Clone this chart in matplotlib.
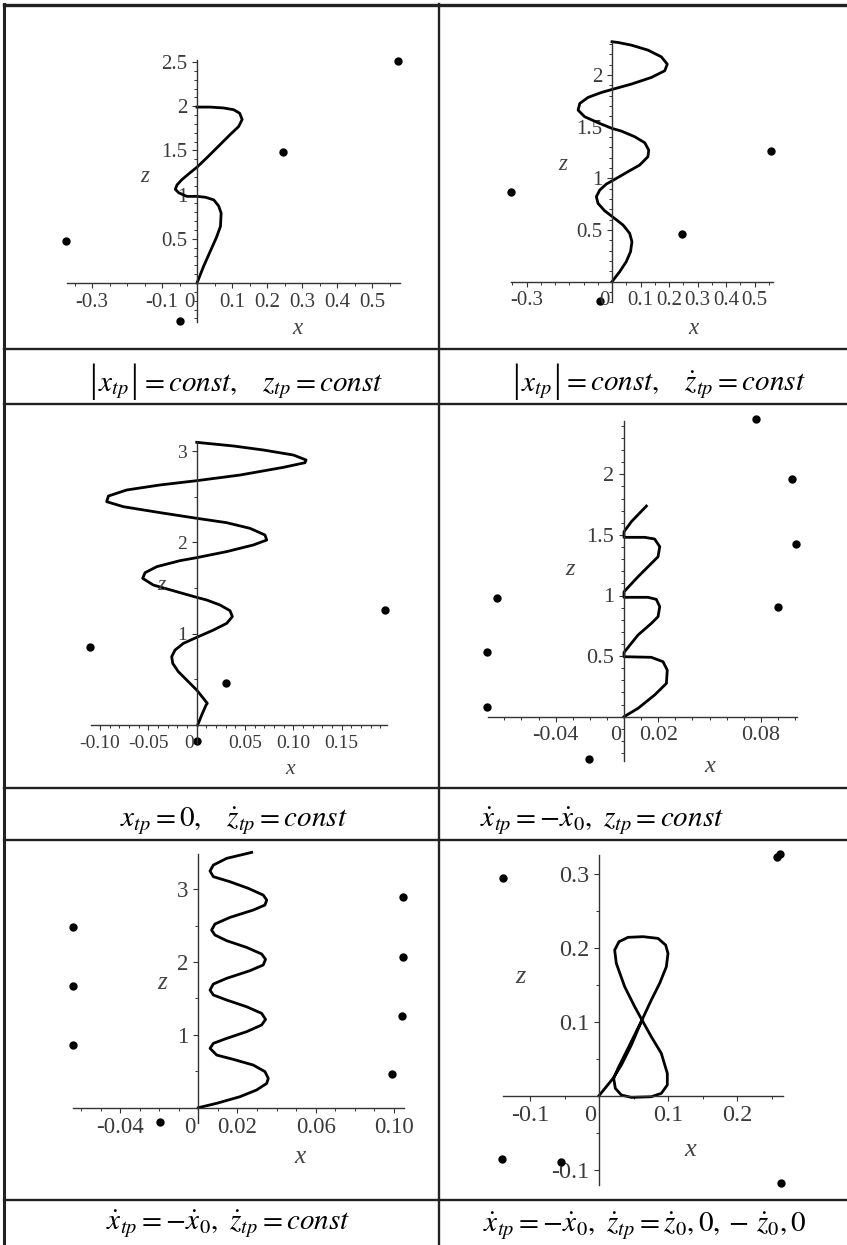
import matplotlib
matplotlib.use("Agg")
import matplotlib.pyplot as plt
from matplotlib.lines import Line2D
from matplotlib.offsetbox import TextArea, HPacker, AnnotationBbox
from matplotlib.ticker import FixedLocator, FixedFormatter, MultipleLocator

plt.rcParams["mathtext.fontset"] = "stix"
plt.rcParams["font.family"] = ["Liberation Serif", "DejaVu Serif"]

# --- data (x, z) ---
# panel 1: |x_tp| = const, z_tp = const
p1_curve_x = [0, 0.019, 0.038, 0.055, 0.067, 0.069, 0.062, 0.048, 0.024, 0, -0.029, -0.052,
              -0.062, -0.057, -0.043, -0.019, 0, 0.029, 0.062, 0.095, 0.119, 0.129, 0.122,
              0.105, 0.076, 0.038, 0]
p1_curve_z = [0, 0.19, 0.36, 0.51, 0.64, 0.79, 0.87, 0.94, 0.97, 0.98, 0.98, 1.02,
              1.06, 1.11, 1.17, 1.25, 1.31, 1.42, 1.55, 1.68, 1.77, 1.85, 1.92,
              1.96, 1.98, 1.99, 1.99]
p1_dots_x = [0.574, 0.246, -0.374, -0.049]
p1_dots_z = [2.51, 1.48, 0.475, -0.43]

# panel 2: |x_tp| = const, zdot_tp = const
p2_curve_x = [0, 0.027, 0.050, 0.065, 0.070, 0.062, 0.039, 0.009, -0.026, -0.049, -0.055,
              -0.043, -0.020, 0.009, 0.056, 0.097, 0.126, 0.129, 0.115, 0.080, 0.033, 0,
              -0.049, -0.096, -0.119, -0.113, -0.084, -0.037, 0, 0.068, 0.138, 0.185,
              0.194, 0.173, 0.126, 0.068, 0.021, 0]
p2_curve_z = [0, 0.097, 0.194, 0.29, 0.387, 0.468, 0.548, 0.613, 0.687, 0.758, 0.823,
              0.887, 0.945, 0.99, 1.065, 1.129, 1.21, 1.274, 1.345, 1.403, 1.458, 1.484,
              1.539, 1.597, 1.661, 1.726, 1.784, 1.832, 1.861, 1.913, 1.977, 2.042,
              2.106, 2.177, 2.242, 2.29, 2.316, 2.323]
p2_dots_x = [-0.355, 0.559, 0.246, -0.041]
p2_dots_z = [0.865, 1.27, 0.46, -0.19]

# panel 3: x_tp = 0, zdot_tp = const
p3_curve_x = [0.001, 0.0052, 0.0097, 0.011, 0.0069, 0, -0.0104, -0.019, -0.0248, -0.0259,
              -0.0224, -0.0138, 0, 0.0173, 0.031, 0.0369, 0.0345, 0.0242, 0.0104, 0,
              -0.0207, -0.0449, -0.0559, -0.0535, -0.0414, -0.0173, 0, 0.031, 0.0587,
              0.0725, 0.0707, 0.0552, 0.031, 0, -0.038, -0.0759, -0.0932, -0.0914,
              -0.0725, -0.038, 0, 0.0449, 0.0897, 0.1121, 0.1132, 0.1001, 0.069, 0.038,
              0.0104, 0]
p3_curve_z = [0, 0.11, 0.219, 0.237, 0.292, 0.383, 0.493, 0.584, 0.675, 0.748,
              0.821, 0.894, 0.96, 1.04, 1.113, 1.187, 1.252, 1.314, 1.369, 1.398,
              1.46, 1.533, 1.606, 1.668, 1.734, 1.8, 1.833, 1.899, 1.972,
              2.026, 2.081, 2.154, 2.216, 2.264, 2.326, 2.391, 2.446, 2.508,
              2.574, 2.629, 2.676, 2.738, 2.822, 2.873, 2.903, 2.957, 3.012, 3.056,
              3.085, 3.096]
p3_dots_x = [-0.110, 0.195, 0.030, 0.0]
p3_dots_z = [0.858, 1.26, 0.456, -0.18]

# panel 4: xdot_tp = -xdot_0, z_tp = const
p4_curve_x = [0, 0.0082, 0.0179, 0.0248, 0.0253, 0.0228, 0.016, 0,
              0, 0.0082, 0.016, 0.0199, 0.0209, 0.0189, 0.014, 0,
              0, 0.0082, 0.016, 0.0199, 0.0209, 0.0179, 0.0121, 0,
              0, 0.0043, 0.0131]
p4_curve_z = [0, 0.069, 0.179, 0.275, 0.385, 0.454, 0.49, 0.495,
              0.53, 0.674, 0.77, 0.825, 0.908, 0.968, 0.985, 0.985,
              1.031, 1.155, 1.265, 1.32, 1.403, 1.466, 1.48, 1.48,
              1.526, 1.609, 1.738]
p4_dots_x = [0.0774, 0.0982, 0.1004, 0.090, -0.0741, -0.0803, -0.080, -0.0206]
p4_dots_z = [2.454, 1.959, 1.425, 0.902, 0.982, 0.534, 0.077, -0.352]

# panel 5: xdot_tp = -xdot_0, zdot_tp = const
p5_curve_x = [0, 0.0094, 0.0213, 0.0298, 0.035, 0.0358, 0.0341, 0.0281, 0.0179, 0.0094,
              0.006, 0.0077, 0.0145, 0.0247, 0.0324, 0.0344, 0.0324, 0.0247, 0.0145,
              0.0077, 0.006, 0.0077, 0.0145, 0.0264, 0.0332, 0.0344, 0.0324, 0.0247,
              0.0145, 0.0085, 0.0068, 0.0085, 0.0162, 0.0281, 0.0341, 0.035, 0.0332,
              0.0256, 0.0162, 0.0077, 0.006, 0.0077, 0.0145, 0.0273]
p5_curve_z = [0, 0.06, 0.151, 0.243, 0.334, 0.403, 0.495, 0.586, 0.664, 0.723,
              0.815, 0.884, 0.952, 1.044, 1.136, 1.213, 1.296, 1.387, 1.479,
              1.548, 1.616, 1.699, 1.777, 1.882, 1.96, 2.038, 2.111, 2.202,
              2.294, 2.372, 2.44, 2.523, 2.614, 2.715, 2.784, 2.853, 2.921,
              3.013, 3.104, 3.173, 3.251, 3.333, 3.425, 3.507]
p5_dots_x = [-0.0639, -0.0639, -0.0639, -0.0196, 0.1049, 0.1046, 0.1043, 0.0992]
p5_dots_z = [2.486, 1.672, 0.861, -0.192, 2.89, 2.074, 1.26, 0.458]

# panel 6: xdot_tp = -xdot_0, zdot_tp = zdot_0, 0, -zdot_0, 0
p6_curve_x = [0, 0.0106, 0.0203, 0.0324, 0.0469, 0.0623, 0.0758, 0.0879, 0.0976, 0.1,
              0.0966, 0.0855, 0.0638, 0.042, 0.029, 0.0227, 0.0251, 0.0372, 0.0517,
              0.0623, 0.0758, 0.0903, 0.099, 0.099, 0.0903, 0.0758, 0.0469, 0.0324,
              0.0237, 0.0213, 0.0275, 0.042, 0.0623]
p6_curve_z = [0, 0.0122, 0.0234, 0.0414, 0.0685, 0.1023, 0.1293, 0.1518, 0.1743, 0.1923,
              0.2036, 0.2126, 0.2149, 0.214, 0.2081, 0.1968, 0.1788, 0.1473, 0.1203,
              0.1023, 0.0797, 0.0572, 0.0302, 0.0144, 0.0032, -0.0014, -0.0023, 0.0009,
              0.0099, 0.0234, 0.0369, 0.064, 0.1023]
p6_dots_x = [-0.139, 0.2575, 0.2623, -0.140, -0.0555, 0.2633]
p6_dots_z = [0.2946, 0.323, 0.326, -0.0855, -0.090, -0.1175]

# captions: the first two have tall |...| bars, so they are given as pieces
captions_abs = [
    r"$= const,\quad z_{tp} = const$",
    r"$= const,\quad \dot{z}_{tp} = const$",
]
captions = [
    r"$x_{tp} = 0,\quad \dot{z}_{tp} = const$",
    r"$\dot{x}_{tp} = -\dot{x}_0,\ z_{tp} = const$",
    r"$\dot{x}_{tp} = -\dot{x}_0,\ \dot{z}_{tp} = const$",
    r"$\dot{x}_{tp} = -\dot{x}_0,\ \dot{z}_{tp} = \dot{z}_0, 0, -\,\dot{z}_0, 0$",
]

W, H = 847, 1245
fig = plt.figure(figsize=(W / 100, H / 100), dpi=100)

panels = [
    dict(cx=p1_curve_x, cz=p1_curve_z, dx=p1_dots_x, dz=p1_dots_z,
         origin=(197, 283), scale=(350, 88.4), xlim=(-0.371, 0.58), zlim=(-0.44, 2.52),
         xt=[-0.3, -0.1, 0.1, 0.2, 0.3, 0.4, 0.5], xl=["-0.3", "-0.1", "0.1", "0.2", "0.3", "0.4", "0.5"],
         zt=[0.5, 1, 1.5, 2, 2.5], zl=["0.5", "1", "1.5", "2", "2.5"],
         xminor=0.05, zminor=0.1, fs=15, zpos=(145, 176), xpos=(297, 328)),
    dict(cx=p2_curve_x, cz=p2_curve_z, dx=p2_dots_x, dz=p2_dots_z,
         origin=(612, 281.7), scale=(285, 103.3), xlim=(-0.354, 0.565), zlim=(-0.2, 2.32),
         xt=[-0.3, 0.1, 0.2, 0.3, 0.4, 0.5], xl=["-0.3", "0.1", "0.2", "0.3", "0.4", "0.5"],
         zt=[0.5, 1, 1.5, 2], zl=["0.5", "1", "1.5", "2"],
         xminor=0.05, zminor=0.1, fs=15, zpos=(563, 165), xpos=(693, 328)),
    dict(cx=p3_curve_x, cz=p3_curve_z, dx=p3_dots_x, dz=p3_dots_z,
         origin=(196.7, 725), scale=(966, 91.3), xlim=(-0.109, 0.197), zlim=(-0.2, 3.10),
         xt=[-0.10, -0.05, 0.05, 0.10, 0.15], xl=["-0.10", "-0.05", "0.05", "0.10", "0.15"],
         zt=[1, 2, 3], zl=["1", "2", "3"],
         xminor=0.01, zminor=0.5, fs=14, zpos=(161, 586), xpos=(290, 770)),
    dict(cx=p4_curve_x, cz=p4_curve_z, dx=p4_dots_x, dz=p4_dots_z,
         origin=(624, 716.7), scale=(1710, 121.2), xlim=(-0.0795, 0.1013), zlim=(-0.363, 2.44),
         xt=[-0.04, 0.02, 0.08], xl=["-0.04", "0.02", "0.08"],
         zt=[0.5, 1, 1.5, 2], zl=["0.5", "1", "1.5", "2"],
         xminor=0.01, zminor=0.1, fs=16, zpos=(570, 570), xpos=(710, 767)),
    dict(cx=p5_curve_x, cz=p5_curve_z, dx=p5_dots_x, dz=p5_dots_z,
         origin=(198.3, 1107.7), scale=(1955, 72.8), xlim=(-0.0639, 0.1054), zlim=(-0.214, 3.49),
         xt=[-0.04, 0.02, 0.06, 0.10], xl=["-0.04", "0.02", "0.06", "0.10"],
         zt=[1, 2, 3], zl=["1", "2", "3"],
         xminor=0.01, zminor=0.5, fs=16.5, zpos=(162, 983), xpos=(300, 1157)),
    dict(cx=p6_curve_x, cz=p6_curve_z, dx=p6_dots_x, dz=p6_dots_z,
         origin=(599, 1095.7), scale=(690, 740), xlim=(-0.139, 0.267), zlim=(-0.121, 0.325),
         xt=[-0.1, 0.1, 0.2], xl=["-0.1", "0.1", "0.2"],
         zt=[-0.1, 0.1, 0.2, 0.3], zl=["-0.1", "0.1", "0.2", "0.3"],
         xminor=0.05, zminor=0.05, fs=17.5, zpos=(520, 977), xpos=(690, 1150)),
]

cap_abs_pos = [(236, 382), (659, 382)]
cap_pos = [(234, 827), (602, 827), (228, 1230), (645, 1232)]
cap_fs = 21

grey = "#333333"
for p in panels:
    ox, oy = p["origin"]
    sx, sz = p["scale"]
    left = ox + p["xlim"][0] * sx
    right = ox + p["xlim"][1] * sx
    top = oy - p["zlim"][1] * sz
    bottom = oy - p["zlim"][0] * sz
    ax = fig.add_axes([left / W, 1 - bottom / H, (right - left) / W, (bottom - top) / H])
    ax.set_xlim(*p["xlim"])
    ax.set_ylim(*p["zlim"])
    ax.patch.set_alpha(0)

    for s in ["top", "right"]:
        ax.spines[s].set_visible(False)
    for s in ["left", "bottom"]:
        ax.spines[s].set_position(("data", 0))
        ax.spines[s].set_color(grey)
        ax.spines[s].set_linewidth(1.0)

    ax.xaxis.set_major_locator(FixedLocator(p["xt"]))
    ax.xaxis.set_major_formatter(FixedFormatter(p["xl"]))
    ax.yaxis.set_major_locator(FixedLocator(p["zt"]))
    ax.yaxis.set_major_formatter(FixedFormatter(p["zl"]))
    ax.xaxis.set_minor_locator(MultipleLocator(p["xminor"]))
    ax.yaxis.set_minor_locator(MultipleLocator(p["zminor"]))
    ax.tick_params(which="major", direction="out", length=3.8, width=0.8, color=grey,
                   labelsize=p["fs"], labelcolor="#3a3a3a", pad=3.2)
    ax.tick_params(which="minor", direction="out", length=2.3, width=0.7, color=grey)

    ax.annotate("0", xy=(0, 0), xytext=(-2, -7), textcoords="offset points",
                ha="right", va="top", fontsize=p["fs"], color="#3a3a3a")

    ax.plot(p["cx"], p["cz"], color="black", lw=2.0, clip_on=False, solid_joinstyle="round")
    ax.plot(p["dx"], p["dz"], "o", color="black", ms=5, clip_on=False)

    fs_lab = p["fs"] + 1.5
    fig.text(p["zpos"][0] / W, 1 - p["zpos"][1] / H, "z", style="italic", fontsize=fs_lab,
             color="#444444", ha="center", va="center")
    fig.text(p["xpos"][0] / W, 1 - p["xpos"][1] / H, "x", style="italic", fontsize=fs_lab,
             color="#444444", ha="center", va="center")

# captions with tall absolute-value bars
for rest, (cx, cy) in zip(captions_abs, cap_abs_pos):
    bar_props = dict(fontsize=28, color="black", family="Liberation Serif")
    pieces = [
        TextArea("|", textprops=bar_props),
        TextArea(r"$x_{tp}$", textprops=dict(fontsize=cap_fs, color="black")),
        TextArea("|", textprops=bar_props),
        TextArea(rest, textprops=dict(fontsize=cap_fs, color="black")),
    ]
    box = HPacker(children=pieces, align="baseline", pad=0, sep=1)
    fig.add_artist(AnnotationBbox(box, (cx, H - cy), xycoords="figure pixels",
                                  frameon=False, box_alignment=(0.5, 0.5), pad=0))

for cap, (cx, cy) in zip(captions, cap_pos):
    fig.text(cx / W, 1 - cy / H, cap, fontsize=cap_fs, ha="center", va="baseline", color="black")

# table grid
def hline(y, x0=4, x1=847, lw=1.7):
    fig.add_artist(Line2D([x0 / W, x1 / W], [1 - y / H, 1 - y / H], color="#222222", lw=lw))

def vline(x, y0=4, y1=1245, lw=1.7):
    fig.add_artist(Line2D([x / W, x / W], [1 - y0 / H, 1 - y1 / H], color="#222222", lw=lw))

hline(5, lw=2.4)
for yy in [349, 404, 788, 840, 1200]:
    hline(yy)
vline(4, lw=2.2)
vline(439)

fig.savefig("out.png", dpi=100)
